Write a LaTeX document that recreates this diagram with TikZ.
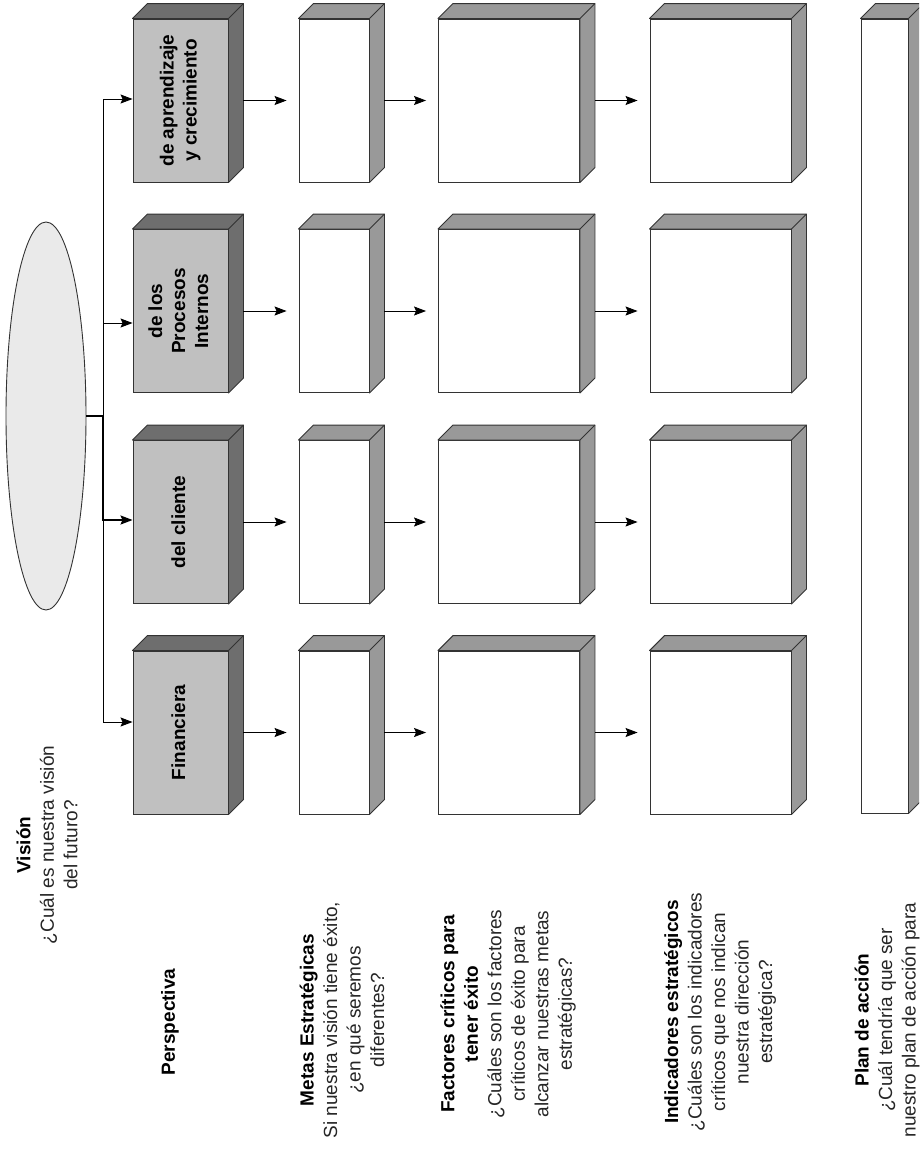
\documentclass[tikz,border=0pt]{standalone}
\usepackage{fontspec}
\usepackage{graphicx}
\setmainfont{Liberation Sans}
\usetikzlibrary{shapes.geometric,calc,arrows.meta}
\definecolor{pfront}{HTML}{C0C0C0}
\definecolor{pdepth}{HTML}{6E6E6E}
\definecolor{wdepth}{HTML}{999999}
\definecolor{edge}{HTML}{333333}
\definecolor{ellfill}{HTML}{EAEAEA}
\definecolor{qtext}{HTML}{262626}
\newcommand\depthfaces[2]{%
  \filldraw[fill=#2, draw=edge, line width=0.9pt, line join=round]
    (#1.north west) -- ++(15,-15) -| ($(#1.south east)+(15,-15)$)
    -- (#1.south east) -- (#1.north east) -- cycle;
  \draw[draw=edge, line width=0.9pt] (#1.north east) -- ++(15,-15);
}
\newcommand\uptext[1]{\rotatebox{90}{\begin{tabular}{@{}c@{}}#1\end{tabular}}}
\tikzset{
  box/.style={draw=edge, line width=0.9pt, inner sep=0pt, rectangle, minimum height=163pt},
  persp/.style={box, fill=pfront, minimum width=95pt, font=\fontsize{19}{23}\selectfont\bfseries},
  meta/.style={box, fill=white, minimum width=70pt},
  wide/.style={box, fill=white, minimum width=141pt},
  lbl/.style={rotate=90, align=center, inner sep=0pt, font=\fontsize{19}{23.5}\selectfont, text=qtext},
  arr/.style={draw=black, line width=0.9pt, -{Stealth[length=12pt,width=9pt,inset=2pt]}},
}
\begin{document}
\begin{tikzpicture}[x=1pt,y=-1pt]
\useasboundingbox (0,0) rectangle (919,1149);
\clip (0,0) rectangle (919,1149);
\fill[white] (0,0) rectangle (919,1149);

% vision ellipse
\node[ellipse, draw=edge, line width=0.9pt, fill=ellfill, minimum width=80pt, minimum height=388pt, inner sep=0pt] (vis) at (46,416) {};

% perspective boxes
\node[persp] (p1) at (180.5,732.5) {\uptext{Financiera}};
\node[persp] (p2) at (180.5,522) {\uptext{del cliente}};
\node[persp] (p3) at (180.5,311) {\uptext{de los\\Procesos\\Internos}};
\node[persp] (p4) at (180.5,100.5) {\uptext{de aprendizaje\\y crecimiento}};
\foreach \n in {p1,p2,p3,p4}{\depthfaces{\n}{pdepth}}

% metas
\node[meta] (m1) at (334,732.5) {};
\node[meta] (m2) at (334,522) {};
\node[meta] (m3) at (334,311) {};
\node[meta] (m4) at (334,100.5) {};
% factores
\node[wide] (f1) at (509,732.5) {};
\node[wide] (f2) at (509,522) {};
\node[wide] (f3) at (509,311) {};
\node[wide] (f4) at (509,100.5) {};
% indicadores
\node[wide] (i1) at (720.5,732.5) {};
\node[wide] (i2) at (720.5,522) {};
\node[wide] (i3) at (720.5,311) {};
\node[wide] (i4) at (720.5,100.5) {};
% plan
\node[box, fill=white, minimum width=47pt, minimum height=794pt] (plan) at (884.5,416) {};
\foreach \n in {m1,m2,m3,m4,f1,f2,f3,f4,i1,i2,i3,i4,plan}{\depthfaces{\n}{wdepth}}

% bus connectors
\coordinate (b4) at (103,99);
\coordinate (b3) at (103,323);
\coordinate (b2) at (103,520);
\coordinate (b1) at (103,722);
\draw[line width=0.9pt] (b4) -- (b1);
\draw[arr] (b4) -- (p4.west |- b4);
\draw[arr] (b3) -- (p3.west |- b3);
\draw[arr] (b1) -- (p1.west |- b1);
\draw[arr, line width=2pt] (vis.east) -| (b2) -- (p2.west |- b2);

% row connectors
\foreach \a/\b/\c/\d in {p1/m1/f1/i1, p2/m2/f2/i2, p3/m3/f3/i3, p4/m4/f4/i4}{
  \draw[arr, shorten <=15pt, shorten >=12pt] (\a.east) -- (\b.west);
  \draw[arr, shorten <=15pt, shorten >=12pt] (\b.east) -- (\c.west);
  \draw[arr, shorten <=15pt, shorten >=12pt] (\c.east) -- (\d.west);
}

% labels
\node[lbl] (tvision) at (47,845) {\textcolor{black}{\bfseries Visión}\\¿Cuál es nuestra visión\\del futuro?};
\node[lbl, text=black] (tpersp) at (170,1022) {\bfseries Perspectiva};
\node[lbl] (tmetas) at (342,1020) {\textcolor{black}{\bfseries Metas Estratégicas}\\Si nuestra visión tiene éxito,\\¿en qué seremos\\diferentes?};
\node[lbl] (tfact) at (508,1014) {\textcolor{black}{\bfseries Factores críticos para}\\\textcolor{black}{\bfseries tener éxito}\\¿Cuáles son los factores\\críticos de éxito para\\alcanzar nuestras metas\\estratégicas?};
\node[lbl] (tind) at (720,1012) {\textcolor{black}{\bfseries Indicadores estratégicos}\\¿Cuáles son los indicadores\\críticos que nos indican\\nuestra dirección\\estratégica?};
\node[lbl] (tplan) at (887,1020) {\textcolor{black}{\bfseries Plan de acción}\\¿Cuál tendría que ser\\nuestro plan de acción para};
\end{tikzpicture}
\end{document}
